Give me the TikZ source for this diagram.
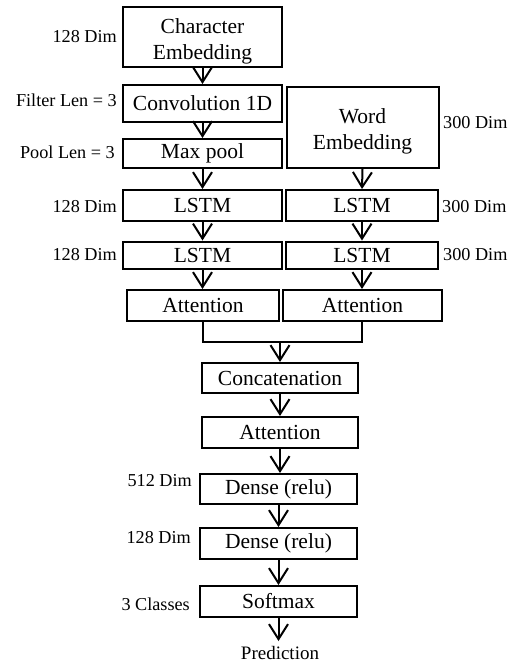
\documentclass[tikz,border=0pt]{standalone}
\usepackage{fontspec}
\setmainfont{Liberation Serif}
\usetikzlibrary{arrows.meta}
\newcommand{\twoline}[2]{\raisebox{-4pt}[\height][\depth]{\begin{tabular}{@{}c@{}}#1\\[0.5pt]#2\end{tabular}}}
\begin{document}
\begin{tikzpicture}[x=1pt,y=-1pt,
  blk/.style={draw,line width=2pt,inner sep=0pt,align=center,font=\fontsize{21.5}{25.5}\selectfont},
  lbl/.style={inner sep=0pt,font=\fontsize{18.2}{19}\selectfont},
  arr/.style={line width=2pt,-{Straight Barb[length=15pt,width=19pt,line width=2pt]}},
  ln/.style={line width=2pt}]
\useasboundingbox (0,0) rectangle (513,662);
% left column
\node[blk,minimum width=159pt,minimum height=60pt] (ce) at (202.5,37) {\twoline{Character}{Embedding}};
\node[blk,minimum width=159pt,minimum height=37pt] (conv) at (202.5,103.5) {Convolution 1D};
\node[blk,minimum width=159pt,minimum height=29pt] (mp) at (202.5,153.5) {Max pool};
\node[blk,minimum width=159pt,minimum height=31pt] (l1a) at (202.5,205.5) {LSTM};
\node[blk,minimum width=159pt,minimum height=27pt] (l2a) at (202.5,255) {LSTM};
\node[blk,minimum width=152pt,minimum height=31pt] (ata) at (203,305.5) {Attention};
% right column
\node[blk,minimum width=152pt,minimum height=81pt] (we) at (362.5,127.5) {\twoline{Word}{Embedding}};
\node[blk,minimum width=152pt,minimum height=31pt] (l1b) at (362,205.5) {LSTM};
\node[blk,minimum width=152pt,minimum height=27pt] (l2b) at (362,255) {LSTM};
\node[blk,minimum width=159pt,minimum height=31pt] (atb) at (362.5,305.5) {Attention};
% bottom column
\node[blk,minimum width=156pt,minimum height=30pt] (cat) at (280,378) {Concatenation};
\node[blk,minimum width=156pt,minimum height=31pt] (at3) at (280,432.5) {Attention};
\node[blk,minimum width=157pt,minimum height=30pt] (d1) at (278.5,489) {Dense (relu)};
\node[blk,minimum width=157pt,minimum height=31pt] (d2) at (278.5,543.5) {Dense (relu)};
\node[blk,minimum width=157pt,minimum height=31pt] (sm) at (278.5,601.5) {Softmax};
\node[inner sep=0pt,font=\fontsize{19}{20}\selectfont,anchor=base] (pred) at (280,659) {Prediction};
% labels
\node[lbl,anchor=east] (lce) at (117,37) {128 Dim};
\node[lbl,anchor=east] (lconv) at (117,100) {Filter Len = 3};
\node[lbl,anchor=east] (lmp) at (115,152) {Pool Len = 3};
\node[lbl,anchor=east] (ll1a) at (117,207) {128 Dim};
\node[lbl,anchor=east] (ll2a) at (117,255) {128 Dim};
\node[lbl,anchor=west] (lwe) at (443,123) {300 Dim};
\node[lbl,anchor=west] (ll1b) at (442,207) {300 Dim};
\node[lbl,anchor=west] (ll2b) at (443,255) {300 Dim};
\node[lbl,anchor=east] (ld1) at (192,481) {512 Dim};
\node[lbl,anchor=east] (ld2) at (191,538) {128 Dim};
\node[lbl,anchor=east] (lsm) at (190,604) {3 Classes};
% arrows
\draw[arr] (ce.south) -- (conv.north);
\draw[arr] (conv.south) -- (mp.north);
\draw[arr] (mp.south) -- (l1a.north);
\draw[arr] (l1a.south) -- (l2a.north);
\draw[arr] (l2a.south) -- (l2a.south |- ata.north);
\draw[arr] (we.south) -- (l1b.north);
\draw[arr] (l1b.south) -- (l2b.north);
\draw[arr] (l2b.south) -- (l2b.south |- atb.north);
\coordinate (ml) at (203,342);
\coordinate (mr) at (362,342);
\coordinate (mc) at (280,342);
\draw[ln] (ata.south) -- (ml) -- (mr) -- (mr |- atb.south);
\draw[arr] (mc) -- (cat.north);
\draw[arr] (cat.south) -- (at3.north);
\draw[arr] (at3.south) -- (at3.south |- d1.north);
\draw[arr] (d1.south) -- (d2.north);
\draw[arr] (d2.south) -- (sm.north);
\draw[arr] (sm.south) -- ++(0,23) coordinate (pe);
\end{tikzpicture}
\end{document}
